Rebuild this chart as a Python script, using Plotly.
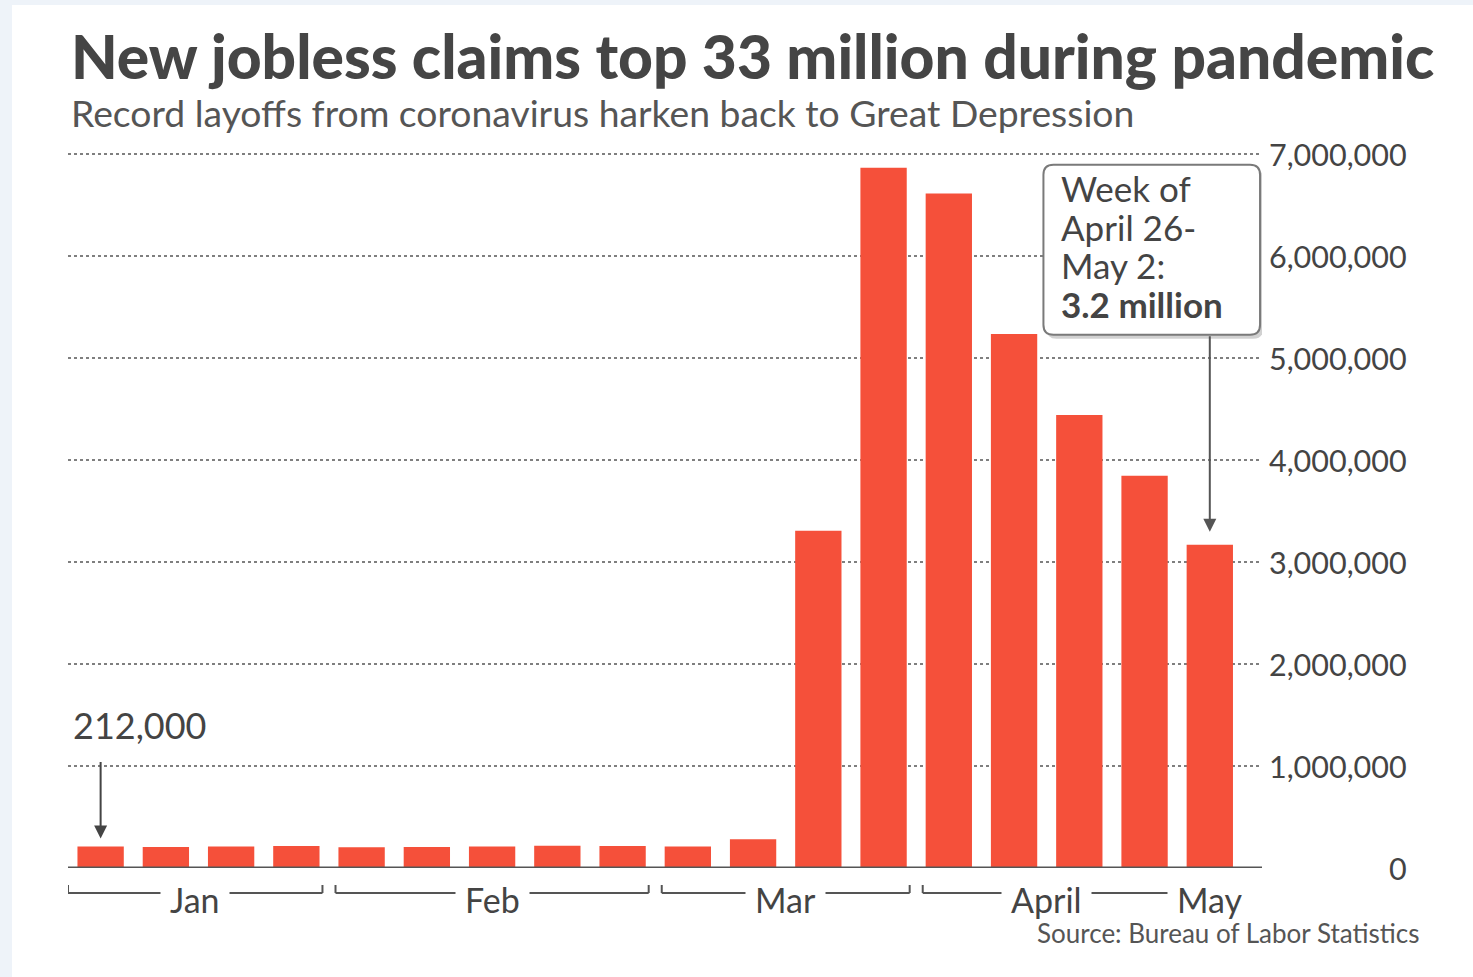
import plotly.graph_objects as go

# ---- data ----
weeks = ["Jan 4", "Jan 11", "Jan 18", "Jan 25", "Feb 1", "Feb 8", "Feb 15", "Feb 22", "Feb 29",
         "Mar 7", "Mar 14", "Mar 21", "Mar 28", "Apr 4", "Apr 11", "Apr 18", "Apr 25", "May 2"]
claims = [212000, 207000, 211000, 216000, 203000, 206000, 210000, 219000, 216000,
          211000, 282000, 3307000, 6867000, 6615000, 5237000, 4442000, 3846000, 3169000]
month_labels = ["Jan", "Feb", "Mar", "April", "May"]
month_counts = [4, 5, 4, 4, 1]
y_ticks = [0, 1000000, 2000000, 3000000, 4000000, 5000000, 6000000, 7000000]
y_tick_text = ["0", "1,000,000", "2,000,000", "3,000,000", "4,000,000", "5,000,000", "6,000,000", "7,000,000"]
callout_lines = ["Week of", "April 26-", "May 2:", "<b>3.2 million</b>"]

W_FIG, H_FIG = 1473, 977
L, R, T, B = 68, 211, 144, 109
PW, PH = W_FIG - L - R, H_FIG - T - B
YMAX = 7.1e6
XMIN, XMAX = -0.5, 17.8

def px_x(p):
    return (p - L) / PW

def px_y(p):
    return 1 - (p - T) / PH

def ppx_per_unit():
    return PW / (XMAX - XMIN)

def ppx_per_val():
    return PH / YMAX

FONT = "Lato"
DARK = "#444444"
BAR = "#f5503a"

x_idx = list(range(len(claims)))

fig = go.Figure()
fig.add_trace(go.Bar(x=x_idx, y=claims, marker=dict(color=BAR, line=dict(width=0)),
                     width=0.71, hoverinfo="skip"))

shapes = []
annotations = []

# background bands
shapes.append(dict(type="rect", xref="paper", yref="paper", layer="below",
                   x0=px_x(12), x1=px_x(W_FIG + 5), y0=px_y(5), y1=px_y(H_FIG + 5),
                   fillcolor="white", line=dict(width=0)))

# month brackets
start = 0
bracket_y = px_y(893)
tick_top = px_y(885)
for lab, cnt in zip(month_labels, month_counts):
    first, last = start, start + cnt - 1
    if cnt > 1:
        x0 = first - (0.5 if first == 0 else 0.4)
        x1 = last + 0.4
        shapes.append(dict(type="line", xref="x", yref="paper", x0=x0, x1=x1, y0=bracket_y, y1=bracket_y,
                           line=dict(color="#555555", width=2), layer="above"))
        for xx in (x0, x1):
            shapes.append(dict(type="line", xref="x", yref="paper", x0=xx, x1=xx, y0=bracket_y, y1=tick_top,
                               line=dict(color="#555555", width=2), layer="above"))
        cx = (x0 + x1) / 2
    else:
        cx = first
    annotations.append(dict(x=cx, y=px_y(899), xref="x", yref="paper", text=lab, showarrow=False,
                            font=dict(family=FONT, size=34, color=DARK), bgcolor="white",
                            xanchor="center", yanchor="middle", borderpad=9))
    start += cnt

# y tick labels (right aligned)
for v, t in zip(y_ticks, y_tick_text):
    annotations.append(dict(x=px_x(1409), y=v, xref="paper", yref="y", text=t, showarrow=False,
                            font=dict(family=FONT, size=30.5, color=DARK), xanchor="right", yanchor="middle"))

# title and subtitle
annotations.append(dict(x=px_x(69), y=px_y(55), xref="paper", yref="paper",
                        text="New jobless claims top 33 million during pandemic", showarrow=False,
                        font=dict(family=FONT, size=60.5, color="#454545", weight=900),
                        xanchor="left", yanchor="middle"))
annotations.append(dict(x=px_x(69), y=px_y(112), xref="paper", yref="paper",
                        text="Record layoffs from coronavirus harken back to Great Depression", showarrow=False,
                        font=dict(family=FONT, size=37.3, color="#555555"), xanchor="left", yanchor="middle"))
# source
annotations.append(dict(x=px_x(1421), y=px_y(933), xref="paper", yref="paper",
                        text="Source: Bureau of Labor Statistics", showarrow=False,
                        font=dict(family=FONT, size=26, color="#555555"), xanchor="right", yanchor="middle"))

# 212,000 label + arrow
first_val = claims[0]
annotations.append(dict(x=x_idx[0] - 0.45, y=first_val + (868 - 725 - first_val * ppx_per_val()) / ppx_per_val(),
                        xref="x", yref="y", text=f"{first_val:,}", showarrow=False,
                        font=dict(family=FONT, size=36, color=DARK), xanchor="left", yanchor="middle"))
annotations.append(dict(x=x_idx[0], y=first_val + 8 / ppx_per_val(), xref="x", yref="y",
                        ax=x_idx[0], ay=first_val + 86 / ppx_per_val(), axref="x", ayref="y",
                        text="", showarrow=True, arrowhead=2, arrowsize=1.3, arrowwidth=2, arrowcolor=DARK))

# callout box for last week
last_i = x_idx[-1]
last_v = claims[-1]
bx0, bx1 = last_i - 2.55, last_i + 0.77
by1 = last_v + (545 - 165) / ppx_per_val()
by0 = last_v + (545 - 335) / ppx_per_val()
rx = 10 / ppx_per_unit()
ry = 10 / ppx_per_val()

def rounded(x0, x1, y0, y1):
    return (f"M {x0 + rx},{y1} L {x1 - rx},{y1} Q {x1},{y1} {x1},{y1 - ry} "
            f"L {x1},{y0 + ry} Q {x1},{y0} {x1 - rx},{y0} L {x0 + rx},{y0} "
            f"Q {x0},{y0} {x0},{y0 + ry} L {x0},{y1 - ry} Q {x0},{y1} {x0 + rx},{y1} Z")

dx = 3 / ppx_per_unit()
dy = 4 / ppx_per_val()
shapes.append(dict(type="path", xref="x", yref="y", path=rounded(bx0 + dx, bx1 + dx, by0 - dy, by1 - dy),
                   fillcolor="rgba(0,0,0,0.18)", line=dict(width=0), layer="above"))
shapes.append(dict(type="path", xref="x", yref="y", path=rounded(bx0, bx1, by0, by1),
                   fillcolor="white", line=dict(color="#7a7a7a", width=2), layer="above"))
line_step = 38.7 / ppx_per_val()
mid = (by0 + by1) / 2 + 4 / ppx_per_val()
for k, txt in enumerate(callout_lines):
    annotations.append(dict(x=bx0 + 16 / ppx_per_unit(), y=mid + (1.5 - k) * line_step, xref="x", yref="y",
                            text=txt, showarrow=False, align="left", xanchor="left", yanchor="middle",
                            font=dict(family=FONT, size=35, color=DARK)))
annotations.append(dict(x=last_i, y=last_v + 13 / ppx_per_val(), xref="x", yref="y",
                        ax=last_i, ay=by0, axref="x", ayref="y",
                        text="", showarrow=True, arrowhead=2, arrowsize=1.3, arrowwidth=2, arrowcolor="#555555"))

fig.update_layout(
    width=W_FIG, height=H_FIG,
    margin=dict(l=L, r=R, t=T, b=B),
    paper_bgcolor="#eef3f9", plot_bgcolor="white",
    showlegend=False, bargap=0.29,
    xaxis=dict(range=[XMIN, XMAX], showgrid=False, zeroline=False, showticklabels=False, ticks="",
               showline=False),
    yaxis=dict(range=[0, YMAX], tickvals=y_ticks[1:], showticklabels=False, ticks="",
               showgrid=True, gridcolor="#7f7f7f", griddash="dot", gridwidth=2,
               zeroline=False, showline=False),
    shapes=shapes, annotations=annotations,
)
# baseline
fig.add_shape(type="line", xref="paper", yref="y", x0=0, x1=1, y0=0, y1=0,
              line=dict(color="#555555", width=3), layer="above")

fig.write_html("out.html", config={"displayModeBar": False},
               post_script="document.body.style.margin='0px';document.body.style.overflow='hidden';")
